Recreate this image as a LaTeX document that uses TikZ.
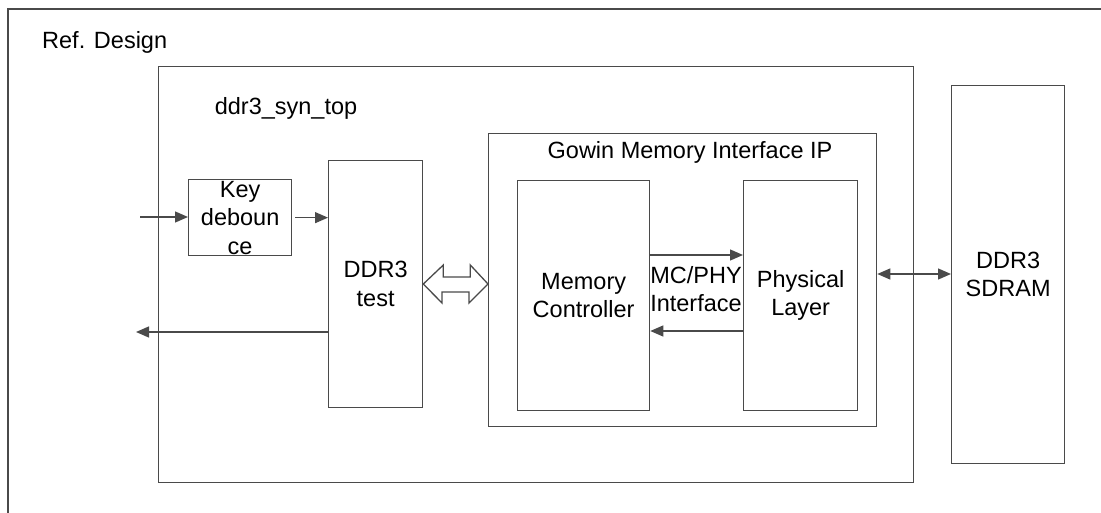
\documentclass[tikz,border=0pt]{standalone}
\usepackage{fontspec}
\setmainfont{Liberation Sans}
\usetikzlibrary{arrows.meta,calc}
\definecolor{lc}{HTML}{4A4A4A}
\begin{document}
\begin{tikzpicture}[x=1pt,y=-1pt,
  ln/.style={draw=lc, line width=1.3pt},
  blk/.style={ln, rectangle, anchor=north west, inner sep=0pt},
  lbl/.style={font=\fontsize{23.5}{28.5}\selectfont, align=center, inner sep=0pt, text=black},
  arr/.style={ln, -{Triangle[length=13pt,width=11pt]}},
  darr/.style={ln, {Triangle[length=13pt,width=11pt]}-{Triangle[length=13pt,width=11pt]}},
]
\useasboundingbox (0,0) rectangle (1101,513);
\fill[white] (0,0) rectangle (1101,513);
% outer frame (continues beyond the picture)
\coordinate (fbl) at (8,513);
\coordinate (ftl) at (8,9);
\coordinate (ftr) at (1101,9);
\draw[ln] (fbl) -- (ftl) -- (ftr);
\node[lbl, anchor=west] (ref) at (42,42) {Ref. Design};

% ddr3_syn_top
\node[blk, minimum width=755pt, minimum height=416pt] (top) at (158,66) {};
\node[lbl] (toplbl) at (286,108) {ddr3\_syn\_top};

% key debounce
\node[blk, minimum width=103pt, minimum height=76pt] (key) at (188,179) {};
\node[lbl] (keylbl) at (key.center) {Key\\deboun\\ce};

% DDR3 test
\node[blk, minimum width=94pt, minimum height=247pt] (test) at (328,160) {};
\node[lbl] (testlbl) at (test.center) {DDR3\\test};

% Gowin IP
\node[blk, minimum width=388pt, minimum height=293pt] (ip) at (488,133) {};
\node[lbl] (iplbl) at (690,152) {Gowin Memory Interface IP};

% Memory controller
\node[blk, minimum width=132pt, minimum height=230pt] (mc) at (517,180) {};
\node[lbl] (mclbl) at (mc.center) {Memory\\Controller};

% Physical layer
\node[blk, minimum width=114pt, minimum height=230pt] (pl) at (743,180) {};
\node[lbl] (pllbl) at (pl.center) {Physical\\Layer};

\node[lbl] (ifl) at (696,289) {MC/PHY\\Interface};

% SDRAM
\node[blk, minimum width=113pt, minimum height=378pt] (sd) at (951,85) {};
\node[lbl] (sdlbl) at (sd.center) {DDR3\\SDRAM};

% connectors
\coordinate (in) at (140,217);
\coordinate (out) at (136,332);
\draw[arr] (in) -- (key.west |- in);
\draw[arr] ([xshift=3pt]key.east) -- (key.east -| test.west);
\draw[arr] (test.west |- out) -- (out);

\coordinate (mcy1) at (0,255);
\coordinate (mcy2) at (0,331);
\draw[arr] (mc.east |- mcy1) -- (pl.west |- mcy1);
\draw[arr] (pl.west |- mcy2) -- (mc.east |- mcy2);

\coordinate (sdy) at (0,274);
\draw[darr] (ip.east |- sdy) -- (sd.west |- sdy);

% hollow double arrow between DDR3 test and Gowin IP
\coordinate (hy) at (0,284);
\draw[ln, fill=white] (test.east |- hy) -- ++(20,-19) -- ++(0,12) -- ++(27,0) -- ++(0,-12)
  -- (ip.west |- hy) -- ++(-19,19) -- ++(0,-11) -- ++(-27,0) -- ++(0,11) -- cycle;
\end{tikzpicture}
\end{document}
